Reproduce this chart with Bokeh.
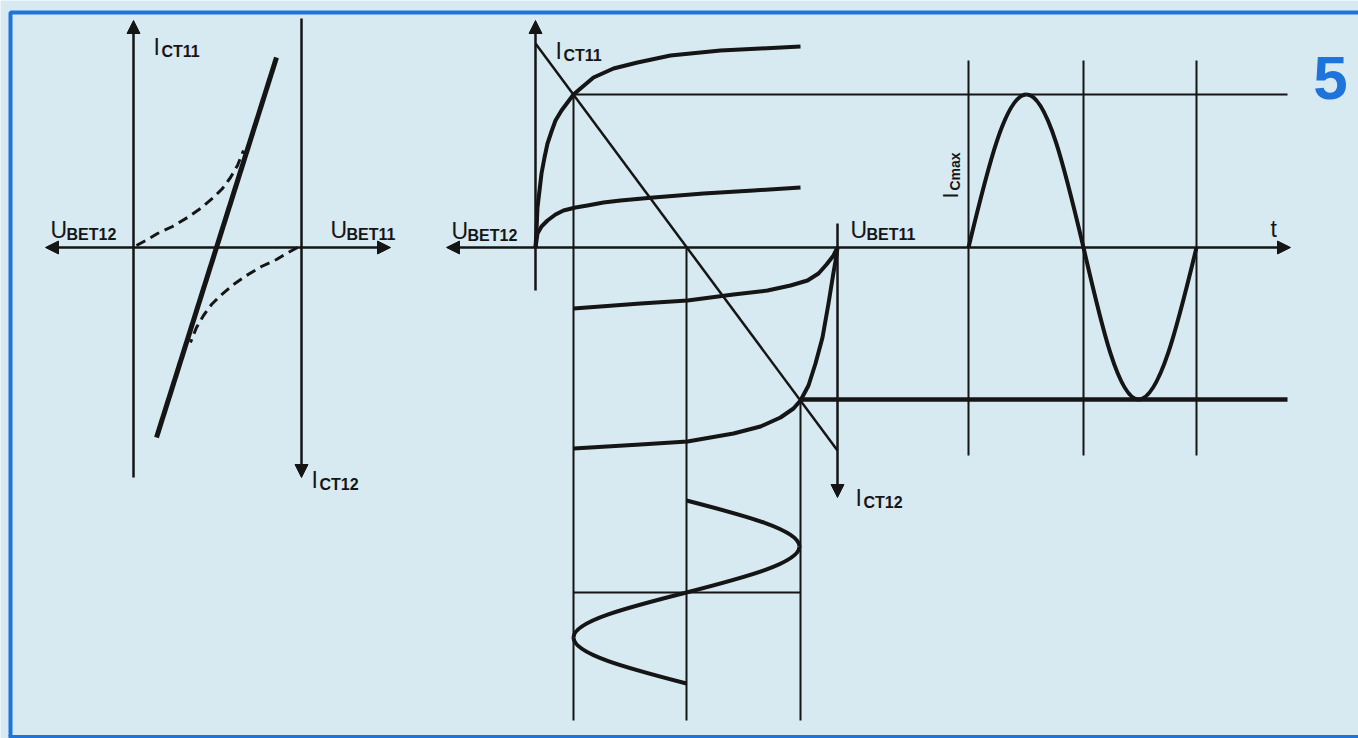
import math
from bokeh.plotting import figure
from bokeh.models import ColumnDataSource, Range1d, Arrow, NormalHead
from bokeh.core.properties import value
from bokeh.embed import file_html
from bokeh.resources import INLINE

BG = "#d7eaf2"
INK = "#151515"
BLUE = "#1f74dc"
FONT = "Liberation Sans"

# ---------------- data (picture pixel units) ----------------
# axes with a single arrow head (start -> end)
AX1_X0 = [133, 301, 535, 837]
AX1_Y0 = [477, 18, 290, 223]
AX1_X1 = [133, 301, 535, 837]
AX1_Y1 = [20, 477, 20, 497]
# horizontal axes with two arrow heads
AX2_X0 = [45, 446]
AX2_X1 = [390, 1290]
AX2_Y = [247, 247]

# thin construction lines
GUIDE_X0 = [573, 686, 800, 573, 968, 1083, 1196]
GUIDE_Y0 = [94, 247, 399, 592, 60, 60, 60]
GUIDE_X1 = [573, 686, 800, 800, 968, 1083, 1196]
GUIDE_Y1 = [720, 720, 720, 592, 455, 455, 455]

# quiescent / max current level (thin) and minimum level (thick)
ICMAX_X = [573, 1287]
ICMAX_Y = [94, 94]
ICMIN_X = [800, 1287]
ICMIN_Y = [399, 399]

# load line
LOAD_X = [535, 837]
LOAD_Y = [43, 450]

# left panel: resulting transfer line and the two dashed transistor curves
TRANS_X = [276, 156]
TRANS_Y = [57, 437]
DASH_UP_X = [136, 147, 157, 172, 187, 200, 213, 222, 230, 237, 243]
DASH_UP_Y = [245, 239, 233, 226, 217, 208, 197, 188, 177, 165, 150]
DASH_LO_X = [297, 286, 276, 261, 246, 233, 220, 211, 203, 196, 190]
DASH_LO_Y = [247, 253, 259, 266, 275, 284, 295, 304, 315, 327, 342]

# middle panel: output characteristics of T11 (upper) and T12 (lower, mirrored)
C1_X = [535, 536, 537, 539, 541, 544, 547, 551, 555, 561, 567, 573, 580, 593, 613, 637, 670, 720, 760, 800]
C1_Y = [247, 230, 207, 190, 173, 157, 143, 131, 120, 110, 102, 94, 88, 77, 68, 62, 55, 50, 48, 46]
C2_X = [535, 537, 541, 547, 555, 563, 575, 587, 603, 620, 653, 703, 753, 800]
C2_Y = [247, 233, 226, 220, 214, 210, 207, 205, 202, 200, 197, 193, 190, 187]
C3_X = [573, 600, 640, 687, 733, 767, 790, 807, 818, 826, 833, 837]
C3_Y = [308, 306, 303, 300, 294, 290, 285, 280, 273, 264, 255, 247]
C4_X = [573, 640, 687, 733, 760, 780, 793, 800, 808, 815, 822, 828, 833, 836, 837]
C4_Y = [448, 444, 441, 433, 426, 417, 408, 400, 385, 363, 337, 303, 272, 255, 247]

# sine signals: zero crossings and extrema
OUT_T = [968, 1026, 1083, 1138, 1196]
OUT_I = [247, 94, 247, 399, 247]
IN_T = [500, 546, 592, 637, 683]
IN_U = [686, 799, 686, 573, 686]

# labels: main letter + subscript
LAB_MAIN = ["I", "U", "U", "I", "I", "U", "U", "I", "t"]
LAB_SUB = ["CT11", "BET12", "BET11", "CT12", "CT11", "BET12", "BET11", "CT12", ""]
LAB_X = [153, 50, 330, 311, 555, 451, 850, 855, 1270]
LAB_Y = [46, 229, 229, 479, 50, 230, 229, 497, 228]

FIG_NUMBER = "5"


def sine_beziers(t, v):
    """Cubic Bezier quarter-waves through crossings/extrema."""
    c = v[0]
    segs = []
    for i in range(len(t) - 1):
        a = (t[i], v[i]); b = (t[i + 1], v[i + 1])
        fwd = (a[1] == c)
        C, E = (a, b) if fwd else (b, a)
        dT = E[0] - C[0]; dV = E[1] - C[1]
        q1 = (C[0] + 0.3261 * dT, C[1] + 0.5123 * dV)
        q2 = (C[0] + 0.6381 * dT, E[1])
        segs.append((C, q1, q2, E) if fwd else (E, q2, q1, C))
    return segs


W, H = 1358, 738
p = figure(width=W, height=H, x_range=Range1d(0, W), y_range=Range1d(H, 0),
           output_backend="svg", toolbar_location=None, min_border=0)
p.axis.visible = False
p.grid.visible = False
p.outline_line_color = None
p.background_fill_color = BG
p.border_fill_color = BG

# blue frame (open on the right, as in the scan)
p.line([10, 10, 1358], [736, 12, 12], line_color=BLUE, line_width=4)
p.line([8, 1358], [736, 736], line_color=BLUE, line_width=3)

# construction lines
p.segment(GUIDE_X0, GUIDE_Y0, GUIDE_X1, GUIDE_Y1, line_color=INK, line_width=2)
p.line(ICMAX_X, ICMAX_Y, line_color=INK, line_width=2)
p.line(ICMIN_X, ICMIN_Y, line_color=INK, line_width=4.5)
p.line(LOAD_X, LOAD_Y, line_color=INK, line_width=2.5)

# axes with arrow heads
src1 = ColumnDataSource(dict(x0=AX1_X0, y0=AX1_Y0, x1=AX1_X1, y1=AX1_Y1))
p.add_layout(Arrow(source=src1, x_start="x0", y_start="y0", x_end="x1", y_end="y1",
                   line_color=INK, line_width=2.5,
                   end=NormalHead(size=13, fill_color=INK, line_color=INK)))
src2 = ColumnDataSource(dict(x0=AX2_X0, x1=AX2_X1, y=AX2_Y))
p.add_layout(Arrow(source=src2, x_start="x0", y_start="y", x_end="x1", y_end="y",
                   line_color=INK, line_width=2.5,
                   start=NormalHead(size=13, fill_color=INK, line_color=INK),
                   end=NormalHead(size=13, fill_color=INK, line_color=INK)))

# left panel curves
p.line(TRANS_X, TRANS_Y, line_color=INK, line_width=5)
p.line(DASH_UP_X, DASH_UP_Y, line_color=INK, line_width=3, line_dash="10 6")
p.line(DASH_LO_X, DASH_LO_Y, line_color=INK, line_width=3, line_dash="10 6")

# middle panel curves
for cx, cy in [(C1_X, C1_Y), (C2_X, C2_Y), (C3_X, C3_Y), (C4_X, C4_Y)]:
    p.line(cx, cy, line_color=INK, line_width=4, line_join="round")

# output sine (time to the right)
segs = sine_beziers(OUT_T, OUT_I)
p.bezier(x0=[s[0][0] for s in segs], y0=[s[0][1] for s in segs],
         x1=[s[3][0] for s in segs], y1=[s[3][1] for s in segs],
         cx0=[s[1][0] for s in segs], cy0=[s[1][1] for s in segs],
         cx1=[s[2][0] for s in segs], cy1=[s[2][1] for s in segs],
         line_color=INK, line_width=4)
# input sine (time downwards)
segs = sine_beziers(IN_T, IN_U)
p.bezier(x0=[s[0][1] for s in segs], y0=[s[0][0] for s in segs],
         x1=[s[3][1] for s in segs], y1=[s[3][0] for s in segs],
         cx0=[s[1][1] for s in segs], cy0=[s[1][0] for s in segs],
         cx1=[s[2][1] for s in segs], cy1=[s[2][0] for s in segs],
         line_color=INK, line_width=4)

# labels
p.text(x=LAB_X, y=LAB_Y, text=LAB_MAIN, text_font=value(FONT), text_font_size="23px",
       text_color=INK, text_align="left", text_baseline="alphabetic")
sub_x = [x + (8 if m == "I" else 16) for x, m in zip(LAB_X, LAB_MAIN)]
sub_y = [y + 5 for y in LAB_Y]
p.text(x=sub_x, y=sub_y, text=LAB_SUB, text_font=value(FONT), text_font_size="16px",
       text_font_style="bold", text_color=INK, text_align="left", text_baseline="alphabetic")

# rotated I_Cmax label
p.text(x=[950], y=[198], text=["I"], angle=math.pi / 2, text_font=value(FONT),
       text_font_size="22px", text_color=INK, text_align="left", text_baseline="alphabetic")
p.text(x=[954], y=[190], text=["Cmax"], angle=math.pi / 2, text_font=value(FONT),
       text_font_size="14px", text_font_style="bold", text_color=INK,
       text_align="left", text_baseline="alphabetic")

# figure number
p.text(x=[1330], y=[77], text=[FIG_NUMBER], text_font=value(FONT), text_font_size="62px",
       text_font_style="bold", text_color=BLUE, text_align="center", text_baseline="alphabetic")

html = file_html(p, INLINE)
html = html.replace("<body>", '<body style="background:%s">' % BG, 1)
open("out.html", "w").write(html)
